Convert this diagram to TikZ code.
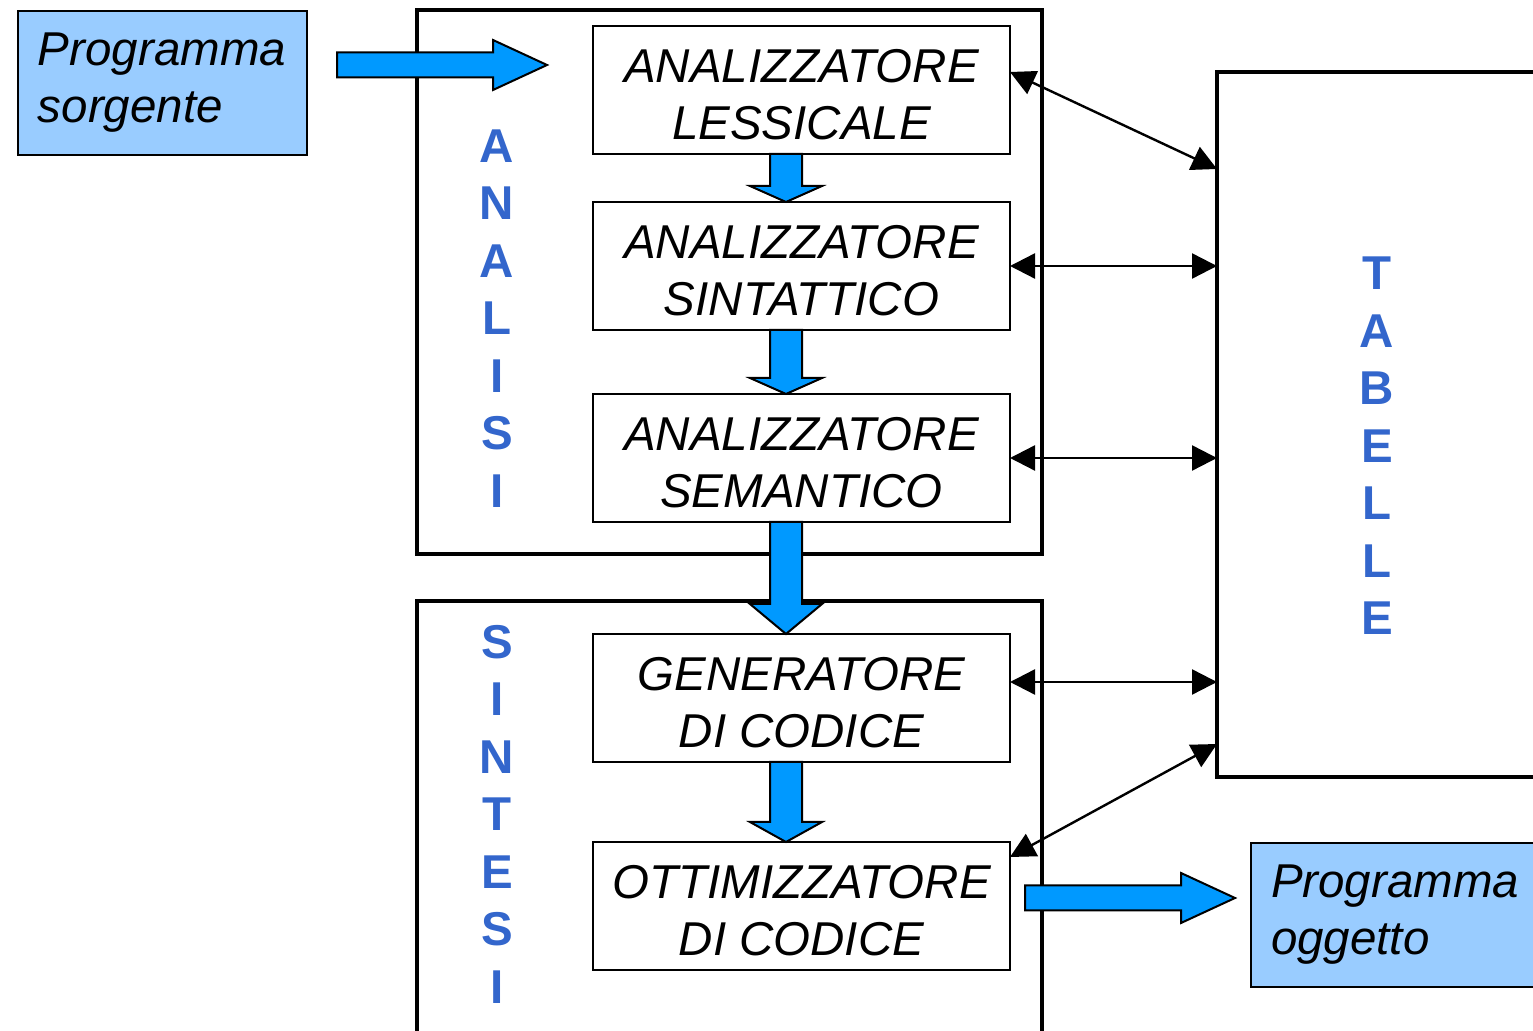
\documentclass[tikz,border=0pt]{standalone}
\usepackage{fontspec}
\setmainfont{Liberation Sans}
\usepackage{tikz}
\usetikzlibrary{arrows.meta,positioning,calc}
\definecolor{lightblue}{RGB}{153, 204, 255}
\definecolor{arrowblue}{RGB}{0, 153, 255}
\definecolor{letterblue}{RGB}{51, 102, 204}
\newcommand{\boxfont}{\fontsize{23.75}{28.5}\selectfont\itshape}
\newcommand{\letterfont}{\fontsize{23.75}{28.75}\selectfont\bfseries}
\tikzstyle{phase} = [rectangle, draw=black, line width=1.2pt, fill=white, minimum width=208.5pt, minimum height=64pt, inner sep=0pt, outer sep=0pt, align=center, font=\boxfont, text height=50pt, text depth=0pt]
\tikzstyle{program} = [rectangle, draw=black, line width=1pt, fill=lightblue, minimum height=72pt, inner xsep=10pt, align=left, font=\boxfont]
\tikzstyle{frame} = [draw=black, line width=2.2pt]
\tikzstyle{vletters} = [align=center, text=letterblue, font=\letterfont, inner sep=0pt]
\tikzstyle{tedge} = [draw, line width=1.2pt, >={Triangle[length=12.5pt,width=12.5pt]}, <->]
\tikzset{
  blockdown/.style={draw=black, line width=1pt, fill=arrowblue,
    to path={($(\tikztostart)+(-16,0)$) -- ($(\tikztotarget)+(-16,-#1)$) -- ($(\tikztotarget)+(-36,-#1)$) -- (\tikztotarget) -- ($(\tikztotarget)+(36,-#1)$) -- ($(\tikztotarget)+(16,-#1)$) -- ($(\tikztostart)+(16,0)$) -- cycle}},
  blockright/.style={draw=black, line width=1pt, fill=arrowblue,
    to path={($(\tikztostart)+(0,-12.5)$) -- ($(\tikztotarget)+(-54,-12.5)$) -- ($(\tikztotarget)+(-54,-25)$) -- (\tikztotarget) -- ($(\tikztotarget)+(-54,25)$) -- ($(\tikztotarget)+(-54,12.5)$) -- ($(\tikztostart)+(0,12.5)$) -- cycle}}
}
\begin{document}
\begin{tikzpicture}[x=0.5pt, y=-0.5pt]
\useasboundingbox (0,0) rectangle (1533,1031);

% frames =============================
\draw[frame] (417,10) rectangle (1042,554);
\draw[frame] (417,601) rectangle (1042,1060);
\node[vletters] (analisi) at (497,318.5) {A\\N\\A\\L\\I\\S\\I};
\node[vletters] (sintesi) at (497,814) {S\\I\\N\\T\\E\\S\\I};

% phases
\node[phase] (lex) at (801.5,90) {ANALIZZATORE\\LESSICALE};
\node[phase, below=24pt of lex] (sin) {ANALIZZATORE\\SINTATTICO};
\node[phase, below=32pt of sin] (sem) {ANALIZZATORE\\SEMANTICO};
\node[phase, below=56pt of sem] (gen) {GENERATORE\\DI CODICE};
\node[phase, below=40pt of gen] (ott) {OTTIMIZZATORE\\DI CODICE};

% tables
\node[draw, line width=2.2pt, minimum width=200pt, minimum height=352.5pt, outer sep=0pt, anchor=north west] (tab) at (1217,72) {};
\node[vletters] (tabelle) at (1377,446) {T\\A\\B\\E\\L\\L\\E};

% programs
\node[program, text width=124.5pt, anchor=north west] (src) at (17,10) {Programma\\sorgente};
\node[program, text width=150pt, anchor=north west] (obj) at (1250,842) {Programma\\oggetto};
\coordinate (srcout) at (337,65);
\coordinate (lexin) at (547,65);
\coordinate (ottout) at (1025,898);
\coordinate (objin) at (1235,898);

%edges flow
\draw[blockright] (srcout) to (lexin);
\draw[blockdown=16] ([xshift=-7.75pt]lex.south) to ([xshift=-7.75pt]sin.north);
\draw[blockdown=16] ([xshift=-7.75pt]sin.south) to ([xshift=-7.75pt]sem.north);
\draw[blockdown=30] ([xshift=-7.75pt]sem.south) to ([xshift=-7.75pt]gen.north);
\draw[blockdown=20] ([xshift=-7.75pt]gen.south) to ([xshift=-7.75pt]ott.north);
\draw[blockright] (ottout) to (objin);

%edges tables
\path[tedge] ([yshift=9pt]lex.east) -- ([yshift=-48.5pt]tab.north west);
\path[tedge] (sin.east) -- (sin.east -| tab.west);
\path[tedge] (sem.east) -- (sem.east -| tab.west);
\path[tedge] ([yshift=8pt]gen.east) -- ([yshift=8pt]gen.east -| tab.west);
\path[tedge] ([yshift=-7.5pt]ott.north east) -- ([yshift=16.5pt]tab.south west);

\end{tikzpicture}
\end{document}
